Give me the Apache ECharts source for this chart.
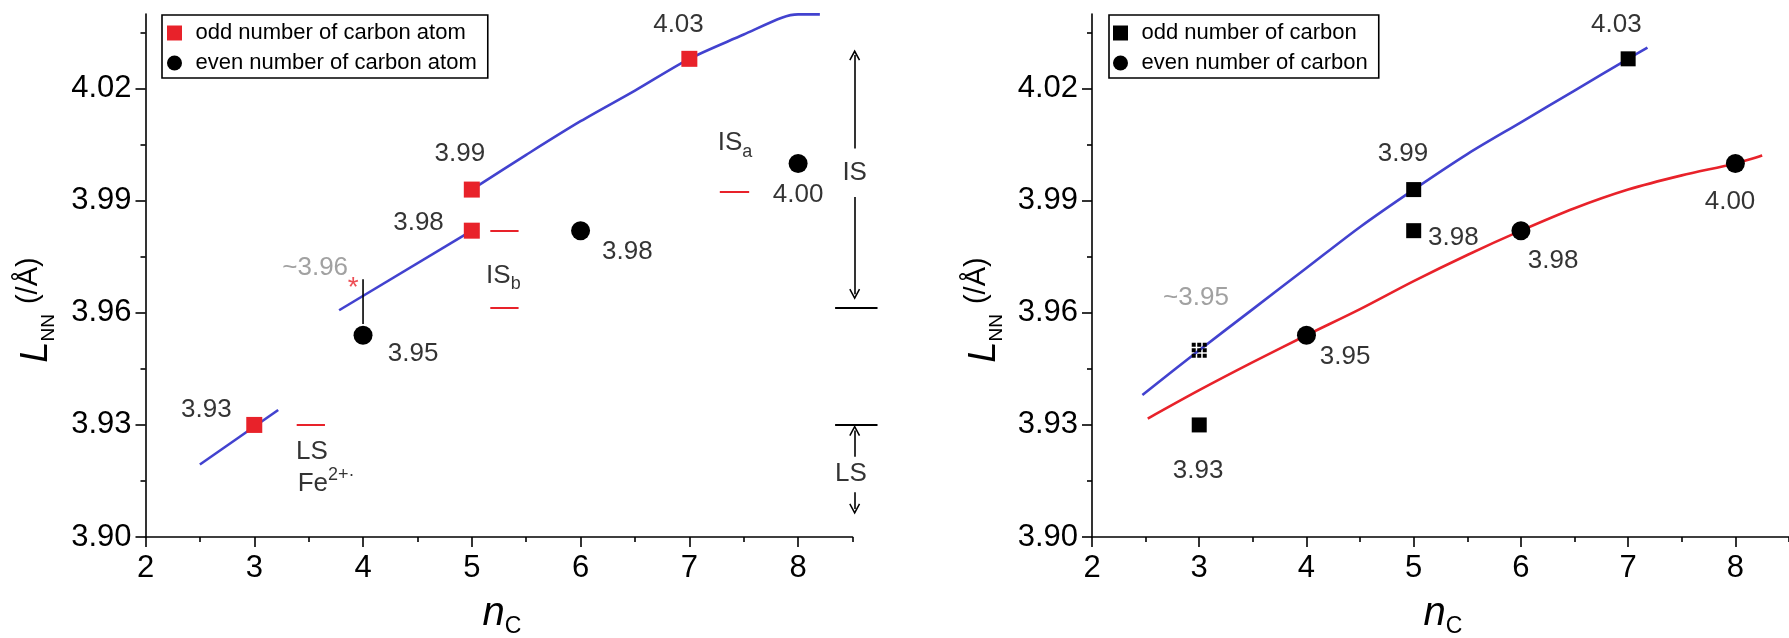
<!DOCTYPE html>
<html><head><meta charset="utf-8">
<script src="https://cdn.jsdelivr.net/npm/echarts@6/dist/echarts.min.js"></script>
<style>html,body{margin:0;padding:0;background:#fff}#c{width:1789px;height:638px}</style>
</head><body><div id="c"></div>
<script>
// ---------- axis ticks ----------
const xTicks = [2, 3, 4, 5, 6, 7, 8];
const xMinorTicks = [2.5, 3.5, 4.5, 5.5, 6.5, 7.5, 8.5];
const yTicks = [3.90, 3.93, 3.96, 3.99, 4.02];
const yMinorTicks = [3.915, 3.945, 3.975, 4.005, 4.035];

// ---------- left panel data ----------
const leftOdd = [[3, 3.930], [5, 3.993], [5, 3.982], [7, 4.028]];
const leftEven = [[4, 3.954], [6, 3.982], [8, 4.000]];
const leftFitA = [[2.5, 3.9194], [3.22, 3.934]];
const leftFitB = [[3.78, 3.9607], [5, 3.982]];
const leftFitC = [[5, 3.993], [5.5, 4.0023], [6, 4.0113], [6.5, 4.0195], [7, 4.028], [7.5, 4.0345], [7.85, 4.0390], [8.0, 4.0399], [8.2, 4.0399]];
const leftRedLevels = [[3.39, 3.65, 3.930], [5.17, 5.43, 3.982], [5.17, 5.43, 3.9615], [7.28, 7.55, 3.9925]];
const leftBlackLevels = [[8.34, 8.73, 3.9615], [8.34, 8.73, 3.930]];
const leftArrows = [[8.52, 4.004, 4.029], [8.52, 3.991, 3.965], [8.52, 3.9215, 3.9285], [8.52, 3.912, 3.9075]];
const leftStarLine = [[4, 3.957], [4, 3.969]];
const leftNotes = [
  ['4.03', 6.9, 4.037, 'num'], ['3.99', 4.89, 4.0025, 'num'], ['3.98', 4.51, 3.984, 'num'],
  ['3.95', 4.46, 3.949, 'num'], ['3.98', 6.43, 3.9764, 'num'], ['4.00', 8.0, 3.9915, 'num'],
  ['3.93', 2.56, 3.934, 'num'], ['~3.96', 3.56, 3.972, 'grey'], ['*', 3.91, 3.9665, 'star'],
  ['{m|IS}{s|b}', 5.29, 3.970, 'rich'], ['{m|IS}{s|a}', 7.42, 4.0054, 'rich'],
  ['LS', 3.53, 3.9227, 'num'], ['{m|Fe}{p|2+·}', 3.66, 3.9143, 'rich'],
  ['IS', 8.52, 3.9975, 'num'], ['LS', 8.485, 3.917, 'num']
];

// ---------- right panel data ----------
const rightOdd = [[3, 3.930], [5, 3.993], [5, 3.982], [7, 4.028]];
const rightOddEstimate = [[3, 3.950]];
const rightEven = [[4, 3.954], [6, 3.982], [8, 4.000]];
const rightFitOdd = [[2.47, 3.938], [3, 3.950], [3.5, 3.961], [4, 3.972], [4.5, 3.983], [5, 3.993], [5.5, 4.0025], [6, 4.011], [6.5, 4.0195], [7, 4.028], [7.18, 4.031]];
const rightFitEven = [[2.52, 3.9317], [3, 3.9393], [3.5, 3.9468], [4, 3.954], [4.5, 3.961], [5, 3.9685], [5.5, 3.9755], [6, 3.982], [6.5, 3.988], [7, 3.993], [7.5, 3.9968], [8, 4.000], [8.25, 4.0021]];
const rightNotes = [
  ['4.03', 6.89, 4.037, 'num'], ['3.99', 4.9, 4.0025, 'num'], ['3.98', 5.37, 3.980, 'num'],
  ['3.98', 6.3, 3.974, 'num'], ['4.00', 7.95, 3.9896, 'num'], ['3.95', 4.36, 3.9483, 'num'],
  ['3.93', 2.99, 3.9178, 'num'], ['~3.95', 2.97, 3.964, 'grey']
];

// ---------- styles ----------
const FONT = '"Liberation Sans", Arial, sans-serif';
const BLUE = '#4242cf';
const RED = '#e8222a';
const SQUARE = 'path://M0,0h10v10h-10z';
const ARROW = 'path://M5,0 L10,9.2 L8.8,10 L5,3 L1.2,10 L0,9.2 Z';
const GRID = 'path://M0,0h4v4h-4z M5.5,0h4v4h-4z M11,0h4v4h-4z M0,5.5h4v4h-4z M5.5,5.5h4v4h-4z M11,5.5h4v4h-4z M0,11h4v4h-4z M5.5,11h4v4h-4z M11,11h4v4h-4z';

const richStyles = {
  m: {fontSize: 26, fontFamily: FONT, color: '#000', lineHeight: 35},
  s: {fontSize: 18, fontFamily: FONT, color: '#000', verticalAlign: 'bottom'},
  p: {fontSize: 18, fontFamily: FONT, color: '#000', verticalAlign: 'top'}
};
function noteItem(n) {
  const [text, x, y, kind] = n;
  const label = {show: true, position: 'inside', formatter: text, fontFamily: FONT, fontSize: 26, color: '#000'};
  if (kind === 'grey') label.color = '#8a8a8a';
  if (kind === 'star') { label.color = RED; label.fontSize = 28; }
  if (kind === 'rich') label.rich = richStyles;
  return {value: [x, y], label};
}

function axes(grid) {
  const common = {gridIndex: grid, type: 'value', splitLine: {show: false}};
  const axisLine = {show: true, onZero: false, lineStyle: {color: '#000', width: 1.6}};
  const tickStyle = {color: '#000', width: 1.6};
  return {
    x: [
      Object.assign({}, common, {min: 2, max: 8.5, position: 'bottom', axisLine,
        axisTick: {show: true, inside: false, length: 10, customValues: xTicks, lineStyle: tickStyle},
        axisLabel: {show: true, customValues: xTicks, margin: 16, fontSize: 31, fontFamily: FONT, color: '#000'}}),
      Object.assign({}, common, {min: 2, max: 8.5, position: 'bottom', axisLine: {show: false, onZero: false},
        axisTick: {show: true, inside: false, length: 5, customValues: xMinorTicks, lineStyle: tickStyle},
        axisLabel: {show: false}})
    ],
    y: [
      Object.assign({}, common, {min: 3.90, max: 4.04, position: 'left', axisLine,
        axisTick: {show: true, inside: false, length: 10, customValues: yTicks, lineStyle: tickStyle},
        axisLabel: {show: true, customValues: yTicks, margin: 14, fontSize: 31, fontFamily: FONT, color: '#000',
          formatter: v => Number(v).toFixed(2)}}),
      Object.assign({}, common, {min: 3.90, max: 4.04, position: 'left', axisLine: {show: false, onZero: false},
        axisTick: {show: true, inside: false, length: 5, customValues: yMinorTicks, lineStyle: tickStyle},
        axisLabel: {show: false}})
    ]
  };
}
const aL = axes(0), aR = axes(1);

function fit(data, color, xi, yi) {
  return {type: 'line', xAxisIndex: xi, yAxisIndex: yi, data, smooth: 0.3, showSymbol: false, silent: true,
    lineStyle: {color, width: 2.6}, z: 2, clip: false};
}
function segs(list, color, xi, yi, width) {
  return {type: 'lines', coordinateSystem: 'cartesian2d', xAxisIndex: xi, yAxisIndex: yi, silent: true, clip: false,
    lineStyle: {color, width, opacity: 1}, data: list.map(([a, b, y]) => ({coords: [[a, y], [b, y]]})), z: 3};
}
function yTitle(x) {
  return {type: 'text', x, y: 310, rotation: Math.PI / 2, style: {text: '{i|L}{s|NN}{u|(/Å)}', align: 'center', verticalAlign: 'middle',
    rich: {i: {fontSize: 38, fontStyle: 'italic', fontFamily: FONT, lineHeight: 48, color: '#000'},
           s: {fontSize: 19, fontFamily: FONT, verticalAlign: 'bottom', color: '#000', padding: [0, 0, 2, 0]},
           u: {fontSize: 29, fontFamily: FONT, verticalAlign: 'top', color: '#000', padding: [2, 0, 0, 10]}}}};
}
function xTitle(x) {
  return {type: 'text', x, y: 614, style: {text: '{i|n}{s|C}', align: 'center', verticalAlign: 'middle',
    rich: {i: {fontSize: 40, fontStyle: 'italic', fontFamily: FONT, lineHeight: 48, color: '#000'},
           s: {fontSize: 23, fontFamily: FONT, verticalAlign: 'bottom', color: '#000'}}}};
}

const legendBase = {orient: 'vertical', itemWidth: 32, itemHeight: 15, itemGap: 8, borderColor: '#000', borderWidth: 1.6,
  selectedMode: false, symbolKeepAspect: true, textStyle: {fontSize: 22, fontFamily: FONT, color: '#000'}};

const option = {
  backgroundColor: '#fff',
  animation: false,
  grid: [
    {left: 145.5, top: 14, width: 707, height: 523},
    {left: 1092, top: 14, width: 707, height: 523}
  ],
  xAxis: [...aL.x, ...aR.x],
  yAxis: [...aL.y, ...aR.y],
  legend: [
    Object.assign({}, legendBase, {left: 162, top: 15, padding: [7, 11, 4, 5],
      data: [{name: 'odd number of carbon atom', icon: SQUARE}, {name: 'even number of carbon atom', icon: 'circle'}]}),
    Object.assign({}, legendBase, {left: 1109, top: 15, padding: [7, 11, 4, 4],
      data: [{name: 'odd number of carbon', icon: SQUARE}, {name: 'even number of carbon', icon: 'circle'}]})
  ],
  graphic: [yTitle(36), yTitle(984), xTitle(502), xTitle(1443)],
  series: [
    // left panel
    fit(leftFitA, BLUE, 0, 0), fit(leftFitB, BLUE, 0, 0), fit(leftFitC, BLUE, 0, 0),
    segs(leftRedLevels, RED, 0, 0, 2),
    segs(leftBlackLevels, '#000', 0, 0, 2),
    {type: 'lines', coordinateSystem: 'cartesian2d', xAxisIndex: 0, yAxisIndex: 0, silent: true, clip: false,
      symbol: ['none', ARROW], symbolSize: [9, 11], lineStyle: {color: '#000', width: 1.6, opacity: 1},
      itemStyle: {color: '#000'},
      data: leftArrows.map(([x, y0, y1]) => ({coords: [[x, y0], [x, y1]]})), z: 3},
    {type: 'line', xAxisIndex: 0, yAxisIndex: 0, data: leftStarLine, showSymbol: false, silent: true,
      lineStyle: {color: '#000', width: 1.6}, z: 3},
    {name: 'odd number of carbon atom', type: 'scatter', xAxisIndex: 0, yAxisIndex: 0, symbol: 'rect', symbolSize: 16,
      itemStyle: {color: RED, opacity: 1}, data: leftOdd, z: 5},
    {name: 'even number of carbon atom', type: 'scatter', xAxisIndex: 0, yAxisIndex: 0, symbol: 'circle', symbolSize: 19,
      itemStyle: {color: '#000', opacity: 1}, data: leftEven, z: 5},
    {type: 'scatter', xAxisIndex: 0, yAxisIndex: 0, symbolSize: 1, itemStyle: {color: 'rgba(0,0,0,0)'}, silent: true, clip: false,
      data: leftNotes.map(noteItem), z: 6},
    // right panel
    fit(rightFitOdd, BLUE, 2, 2), fit(rightFitEven, RED, 2, 2),
    {name: 'odd number of carbon', type: 'scatter', xAxisIndex: 2, yAxisIndex: 2, symbol: 'rect', symbolSize: 15,
      itemStyle: {color: '#000', opacity: 1}, data: rightOdd, z: 5},
    {type: 'scatter', xAxisIndex: 2, yAxisIndex: 2, symbol: GRID, symbolSize: 15,
      itemStyle: {color: '#000', opacity: 1}, data: rightOddEstimate, z: 5},
    {name: 'even number of carbon', type: 'scatter', xAxisIndex: 2, yAxisIndex: 2, symbol: 'circle', symbolSize: 19,
      itemStyle: {color: '#000', opacity: 1}, data: rightEven, z: 5},
    {type: 'scatter', xAxisIndex: 2, yAxisIndex: 2, symbolSize: 1, itemStyle: {color: 'rgba(0,0,0,0)'}, silent: true, clip: false,
      data: rightNotes.map(noteItem), z: 6}
  ]
};
const chart = echarts.init(document.getElementById('c'));
chart.setOption(option);
</script>
</body></html>
